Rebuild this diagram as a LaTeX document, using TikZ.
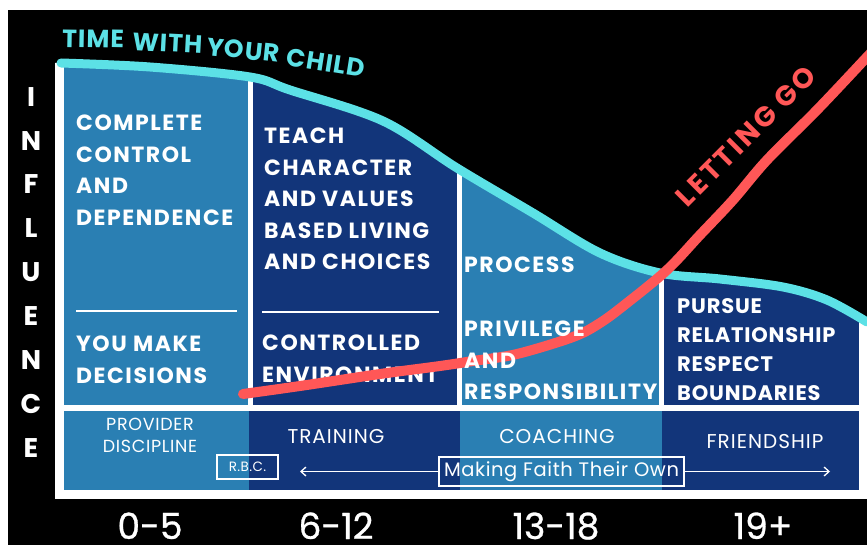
\documentclass[tikz,border=0pt]{standalone}
\usepackage{fontspec}
\setmainfont{Poppins}
\usetikzlibrary{arrows.meta}
\definecolor{tcyan}{HTML}{5CE1E6}
\definecolor{tred}{HTML}{FF5757}
\definecolor{lblue}{HTML}{2A7FB3}
\definecolor{navy}{HTML}{12357A}
\begin{document}
\begin{tikzpicture}[x=1pt,y=-1pt,
  bigtxt/.style={text=white, inner sep=0, anchor=north west, align=left, font=\fontsize{22}{31.5}\selectfont\bfseries\addfontfeature{LetterSpace=7}},
  striptxt/.style={text=white, inner sep=0, anchor=north, align=center, font=\fontsize{20}{22}\selectfont\addfontfeature{LetterSpace=5}},
  agetxt/.style={text=white, inner sep=0, anchor=base, font=\fontsize{36}{36}\selectfont\addfontfeature{FakeBold=0.8}},
  boxtxt/.style={draw=white, line width=2, text=white, inner sep=0},
  thinarrow/.style={draw=white, line width=1.3, -{Straight Barb[length=5,width=9]}},
  sepline/.style={draw=white, line width=2},
  titleword/.style={text=tcyan, inner sep=0, anchor=base west, font=\fontsize{25}{25}\selectfont\bfseries\addfontfeature{LetterSpace=4}}
]
\useasboundingbox (0,0) rectangle (867,545);
\fill[white] (0,0) rectangle (867,545);
\fill[black] (8,10) rectangle (867,545);

% panel under the curve
\begin{scope}
\clip (55,63) -- plot[smooth,tension=0.55] coordinates {(61,63) (150,67) (250,77) (290,90) (383,121) (457,168) (533,213) (600,253) (660,273) (720,279) (783,287) (827,300) (867,322)} -- (867,499) -- (55,499) -- cycle;
\fill[white] (0,0) rectangle (867,499);
\fill[lblue] (64,0) rectangle (248,405);
\fill[navy] (253,0) rectangle (457,405);
\fill[lblue] (462,0) rectangle (659,405);
\fill[navy] (664,0) rectangle (859,405);
\fill[lblue] (64,411) rectangle (249,490);
\fill[navy] (249,411) rectangle (460,490);
\fill[lblue] (460,411) rectangle (662,490);
\fill[navy] (662,411) rectangle (859,490);
\end{scope}

\draw[sepline] (76,311) -- (237,311);
\draw[sepline] (262,312) -- (439,312);

% texts of first two columns
\node[bigtxt] (c1a) at (76,115) {COMPLETE\\CONTROL\\AND\\DEPENDENCE};
\node[bigtxt] (c2a) at (264,128) {TEACH\\CHARACTER\\AND VALUES\\BASED LIVING\\AND CHOICES};
\node[bigtxt] (c1b) at (76,336) {YOU MAKE\\DECISIONS};
\node[bigtxt] (c2b) at (262,335) {CONTROLLED\\ENVIRONMENT};

% curves
\draw[tcyan, line width=9, line cap=round] plot[smooth,tension=0.55] coordinates {(61,63) (150,67) (250,77) (290,90) (383,121) (457,168) (533,213) (600,253) (660,273) (720,279) (783,287) (827,300) (867,322)};
\draw[tred, line width=10, line cap=round] plot[smooth,tension=0.55] coordinates {(243,394) (300,386) (380,374) (440,366) (473,361) (517,354) (573,337) (600,323) (627,303) (667,270) (700,235) (733,200) (767,160) (817,110) (867,57) (880,43)};

% texts of last two columns
\node[bigtxt] (c3a) at (464,257) {PROCESS};
\node[bigtxt] (c3b) at (464,321) {PRIVILEGE\\AND\\RESPONSIBILITY};
\node[bigtxt, font=\fontsize{21}{29}\selectfont\bfseries\addfontfeature{LetterSpace=4}] (c4a) at (677,298) {PURSUE\\RELATIONSHIP\\RESPECT\\BOUNDARIES};

% strip
\node[striptxt, font=\fontsize{17.5}{22}\selectfont\addfontfeature{LetterSpace=4}] (prov) at (150,418) {PROVIDER\\DISCIPLINE};
\node[striptxt] (train) at (336,429) {TRAINING};
\node[striptxt] (coach) at (557,429) {COACHING};
\node[striptxt] (friend) at (765,434) {FRIENDSHIP};

\node[boxtxt, minimum width=61, minimum height=24, font=\fontsize{13.5}{13.5}\selectfont\addfontfeature{LetterSpace=3}] (rbc) at (247.5,467) {R.B.C.};
\node[boxtxt, minimum width=245, minimum height=29, font=\fontsize{19.5}{19.5}\selectfont\addfontfeature{LetterSpace=3}] (mf) at (561.5,471.5) {Making Faith Their Own};
\coordinate (arrL) at (300,471.5);
\coordinate (arrR) at (830,471.5);
\draw[thinarrow] (mf.west) -- (arrL);
\draw[thinarrow] (mf.east) -- (arrR);

% ages
\node[agetxt] (a1) at (150,539) {0-5};
\node[agetxt] (a2) at (336,539) {6-12};
\node[agetxt] (a3) at (556,539) {13-18};
\node[agetxt] (a4) at (763,539) {19+};

% influence
\node[text=white, inner sep=0, anchor=north, align=center, font=\fontsize{27}{43.9}\selectfont\bfseries] (infl) at (31,87) {I\\N\\F\\L\\U\\E\\N\\C\\E};

% titles
\node[titleword, rotate=-1] (w1) at (62,47) {TIME};
\node[titleword, rotate=-3] (w2) at (132,50) {WITH};
\node[titleword, rotate=-6] (w3) at (206,55) {YOUR};
\node[titleword, rotate=-9] (w4) at (285,65) {CHILD};
\node[text=tred, inner sep=0, rotate=45, font=\fontsize{28}{28}\selectfont\bfseries\addfontfeature{LetterSpace=10}] (letgo) at (746,136) {LETTING GO};
\end{tikzpicture}
\end{document}
